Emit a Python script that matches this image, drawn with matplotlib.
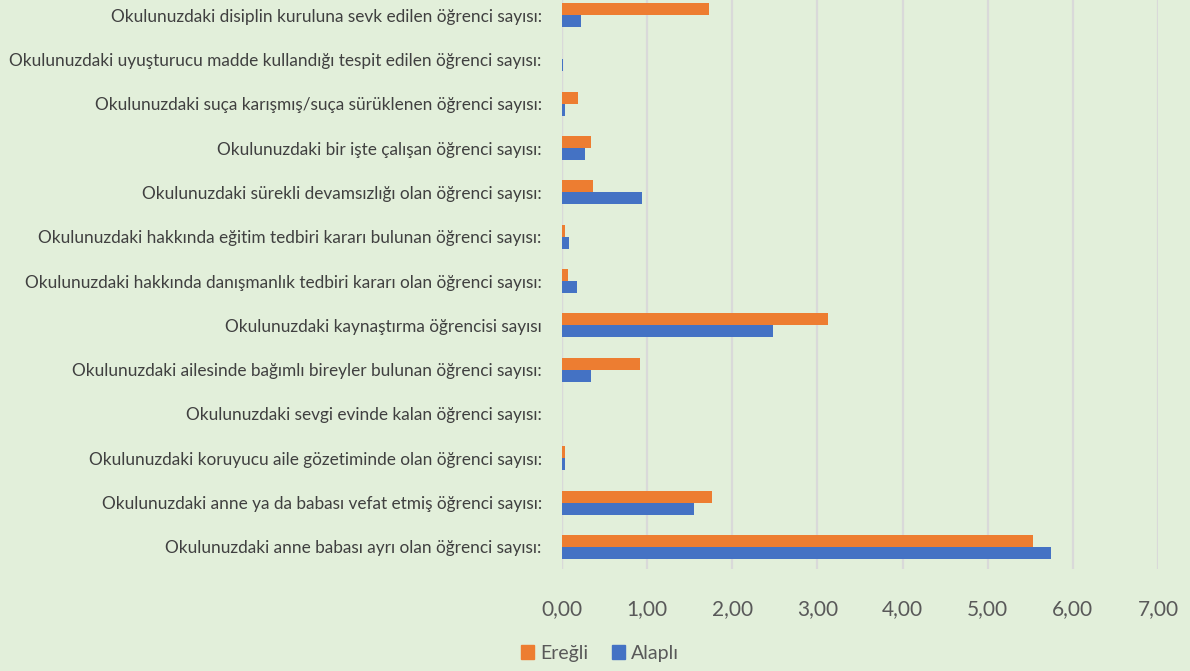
import matplotlib
matplotlib.use("Agg")
import matplotlib.pyplot as plt
import numpy as np
from matplotlib.patches import Patch

categories = [
    "Okulunuzdaki disiplin kuruluna sevk edilen öğrenci sayısı:",
    "Okulunuzdaki uyuşturucu madde kullandığı tespit edilen öğrenci sayısı:",
    "Okulunuzdaki suça karışmış/suça sürüklenen öğrenci sayısı:",
    "Okulunuzdaki bir işte çalışan öğrenci sayısı:",
    "Okulunuzdaki sürekli devamsızlığı olan öğrenci sayısı:",
    "Okulunuzdaki hakkında eğitim tedbiri kararı bulunan öğrenci sayısı:",
    "Okulunuzdaki hakkında danışmanlık tedbiri kararı olan öğrenci sayısı:",
    "Okulunuzdaki kaynaştırma öğrencisi sayısı",
    "Okulunuzdaki ailesinde bağımlı bireyler bulunan öğrenci sayısı:",
    "Okulunuzdaki sevgi evinde kalan öğrenci sayısı:",
    "Okulunuzdaki koruyucu aile gözetiminde olan öğrenci sayısı:",
    "Okulunuzdaki anne ya da babası vefat etmiş öğrenci sayısı:",
    "Okulunuzdaki anne babası ayrı olan öğrenci sayısı:",
]
eregli = [1.73, 0.00, 0.19, 0.34, 0.36, 0.03, 0.07, 3.12, 0.92, 0.00, 0.03, 1.76, 5.53]
alapli = [0.22, 0.01, 0.04, 0.27, 0.94, 0.08, 0.18, 2.48, 0.34, 0.00, 0.04, 1.55, 5.74]
series_names = ["Ereğli", "Alaplı"]
xticks = [0, 1, 2, 3, 4, 5, 6, 7]

bg = "#E2EFDA"
c_or = "#ED7D31"
c_bl = "#4472C4"
txt = "#404040"

plt.rcParams['font.family'] = ['Lato', 'DejaVu Sans']

fig = plt.figure(figsize=(11.9, 6.71), dpi=100, facecolor=bg)
ax = fig.add_axes([562/1190, 1 - 569/671, (1158 - 562)/1190, 576/671])
ax.set_facecolor(bg)

n = len(categories)
y = np.arange(n)
h = 0.27
ax.barh(y - h/2, eregli, height=h, color=c_or, zorder=3)
ax.barh(y + h/2, alapli, height=h, color=c_bl, zorder=3)

ax.set_ylim(n - 0.5, -0.5)
ax.set_xlim(0, 7)
ax.set_xticks(xticks)
ax.set_xticklabels([f"{v:.2f}".replace(".", ",") for v in xticks], fontsize=15, color="#595959")
ax.set_yticks(y)
ax.set_yticklabels(categories, fontsize=12.4, color=txt)
ax.tick_params(axis='both', length=0)
ax.tick_params(axis='x', pad=22)
ax.tick_params(axis='y', pad=14.5)
ax.grid(axis='x', color="#D9D9D9", lw=1.6, zorder=0)
for s in ax.spines.values():
    s.set_visible(False)
ax.axvline(0, color="#D9D9D9", lw=1.6, zorder=1)

handles = [Patch(color=c_or), Patch(color=c_bl)]
fig.legend(handles, series_names, loc='center', bbox_to_anchor=(600/1190, 1 - 653/671),
           ncol=2, frameon=False, fontsize=14, handlelength=0.7, handleheight=0.7,
           handletextpad=0.3, columnspacing=1.2, labelcolor="#595959")

fig.savefig("out.png", dpi=100, facecolor=bg)
